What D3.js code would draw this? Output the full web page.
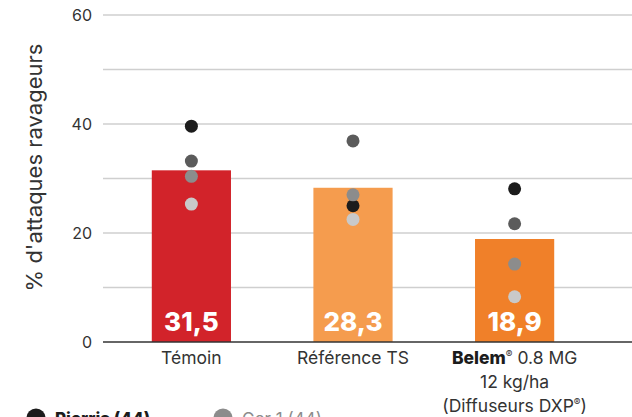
<!DOCTYPE html>
<html>
<head>
  <meta charset="utf-8">
  <script src="https://d3js.org/d3.v7.min.js"></script>
  <style>
    body { margin: 0; background: #fff; font-family: "Inter", "Lato", sans-serif; }
    svg { display: block; }
  </style>
</head>
<body>
<div id="chart"></div>
<script>
  // data
  const categories = ["Témoin", "Référence TS", "Belem"];
  const barValues = [31.5, 28.3, 18.9];
  const barLabels = ["31,5", "28,3", "18,9"];
  const barColors = ["#d2232a", "#f59c4e", "#f08029"];

  const siteNames = ["Pierris", "Ger 2", "Ger 1", "Ger 3"];
  const siteColors = ["#1c1c1c", "#5b5b5b", "#8c8c8c", "#c9c9c9"];
  const siteValues = [
    [39.6, 25.0, 28.1],   // black
    [33.2, 36.9, 21.7],   // dark grey
    [30.4, 27.0, 14.3],   // mid grey
    [25.3, 22.5, 8.3]     // light grey
  ];
  const yTicks = [0, 20, 40, 60];
  const gridTicks = [10, 20, 30, 40, 50, 60];

  const legendItems = [
    { label: "Pierris (44)", color: "#1c1c1c", bold: true, textColor: "#1c1c1c" },
    { label: "Ger 1 (44)", color: "#8c8c8c", bold: false, textColor: "#8c8c8c" }
  ];

  const width = 632, height = 417;
  const svg = d3.select("#chart").append("svg")
    .attr("width", width).attr("height", height);

  const left = 103, right = 632;
  const y = d3.scaleLinear().domain([0, 60]).range([342, 15]);
  const x = d3.scaleBand().domain(categories).range([113, 593]).paddingInner(0.51).paddingOuter(0.24);

  // grid
  svg.append("g").selectAll("line")
    .data(gridTicks)
    .join("line")
    .attr("x1", left).attr("x2", right)
    .attr("y1", d => y(d)).attr("y2", d => y(d))
    .attr("stroke", "#cfcfcf")
    .attr("stroke-width", 1.3);

  // y tick labels
  svg.append("g").selectAll("text")
    .data(yTicks)
    .join("text")
    .attr("x", 92)
    .attr("y", d => y(d))
    .attr("dy", "0.35em")
    .attr("text-anchor", "end")
    .attr("font-size", 16)
    .attr("fill", "#333")
    .text(d => d);

  // y title
  svg.append("text")
    .attr("transform", `translate(42,${(y(0) + y(60)) / 2 - 11}) rotate(-90)`)
    .attr("text-anchor", "middle")
    .attr("font-size", 22)
    .attr("fill", "#333")
    .text("% d'attaques ravageurs");

  // bars
  svg.append("g").selectAll("rect")
    .data(categories)
    .join("rect")
    .attr("x", d => x(d))
    .attr("width", x.bandwidth())
    .attr("y", (d, i) => y(barValues[i]))
    .attr("height", (d, i) => y(0) - y(barValues[i]))
    .attr("fill", (d, i) => barColors[i]);

  // baseline
  svg.append("line")
    .attr("x1", left).attr("x2", right)
    .attr("y1", y(0)).attr("y2", y(0))
    .attr("stroke", "#333").attr("stroke-width", 1.5);

  // value labels
  svg.append("g").selectAll("text")
    .data(categories)
    .join("text")
    .attr("x", d => x(d) + x.bandwidth() / 2)
    .attr("y", y(0) - 11)
    .attr("text-anchor", "middle")
    .attr("font-size", 26)
    .attr("font-weight", 800)
    .attr("fill", "#fff")
    .text((d, i) => barLabels[i]);

  // site dots
  siteValues.forEach((vals, s) => {
    svg.append("g").selectAll("circle")
      .data(vals)
      .join("circle")
      .attr("cx", (d, i) => x(categories[i]) + x.bandwidth() / 2)
      .attr("cy", d => y(d))
      .attr("r", 6.5)
      .attr("fill", siteColors[s]);
  });

  // category labels
  const labelG = svg.append("g").attr("font-size", 17.5).attr("fill", "#333").attr("text-anchor", "middle");
  categories.slice(0, 2).forEach(c => {
    labelG.append("text")
      .attr("x", x(c) + x.bandwidth() / 2)
      .attr("y", 364)
      .text(c);
  });
  const bx = x("Belem") + x.bandwidth() / 2;
  const t1 = labelG.append("text").attr("x", bx).attr("y", 364);
  t1.append("tspan").attr("font-weight", 800).attr("fill", "#1c1c1c").text("Belem");
  t1.append("tspan").attr("font-size", 10).attr("dy", -6).text("®");
  t1.append("tspan").attr("dy", 6).text(" 0.8 MG");
  labelG.append("text").attr("x", bx).attr("y", 388).text("12 kg/ha");
  const t3 = labelG.append("text").attr("x", bx).attr("y", 412);
  t3.append("tspan").text("(Diffuseurs DXP");
  t3.append("tspan").attr("font-size", 10).attr("dy", -6).text("®");
  t3.append("tspan").attr("dy", 6).text(")");

  // legend (cut off at the bottom edge, as in the source)
  const lg = svg.append("g").selectAll("g")
    .data(legendItems)
    .join("g")
    .attr("transform", (d, i) => `translate(${36 + i * 187},418)`);
  lg.append("circle").attr("r", 9.5).attr("fill", d => d.color);
  lg.append("text")
    .attr("x", 19)
    .attr("y", 7)
    .attr("font-size", 17)
    .attr("font-weight", d => d.bold ? 800 : 400)
    .attr("fill", d => d.textColor)
    .text(d => d.label);
</script>
</body>
</html>
